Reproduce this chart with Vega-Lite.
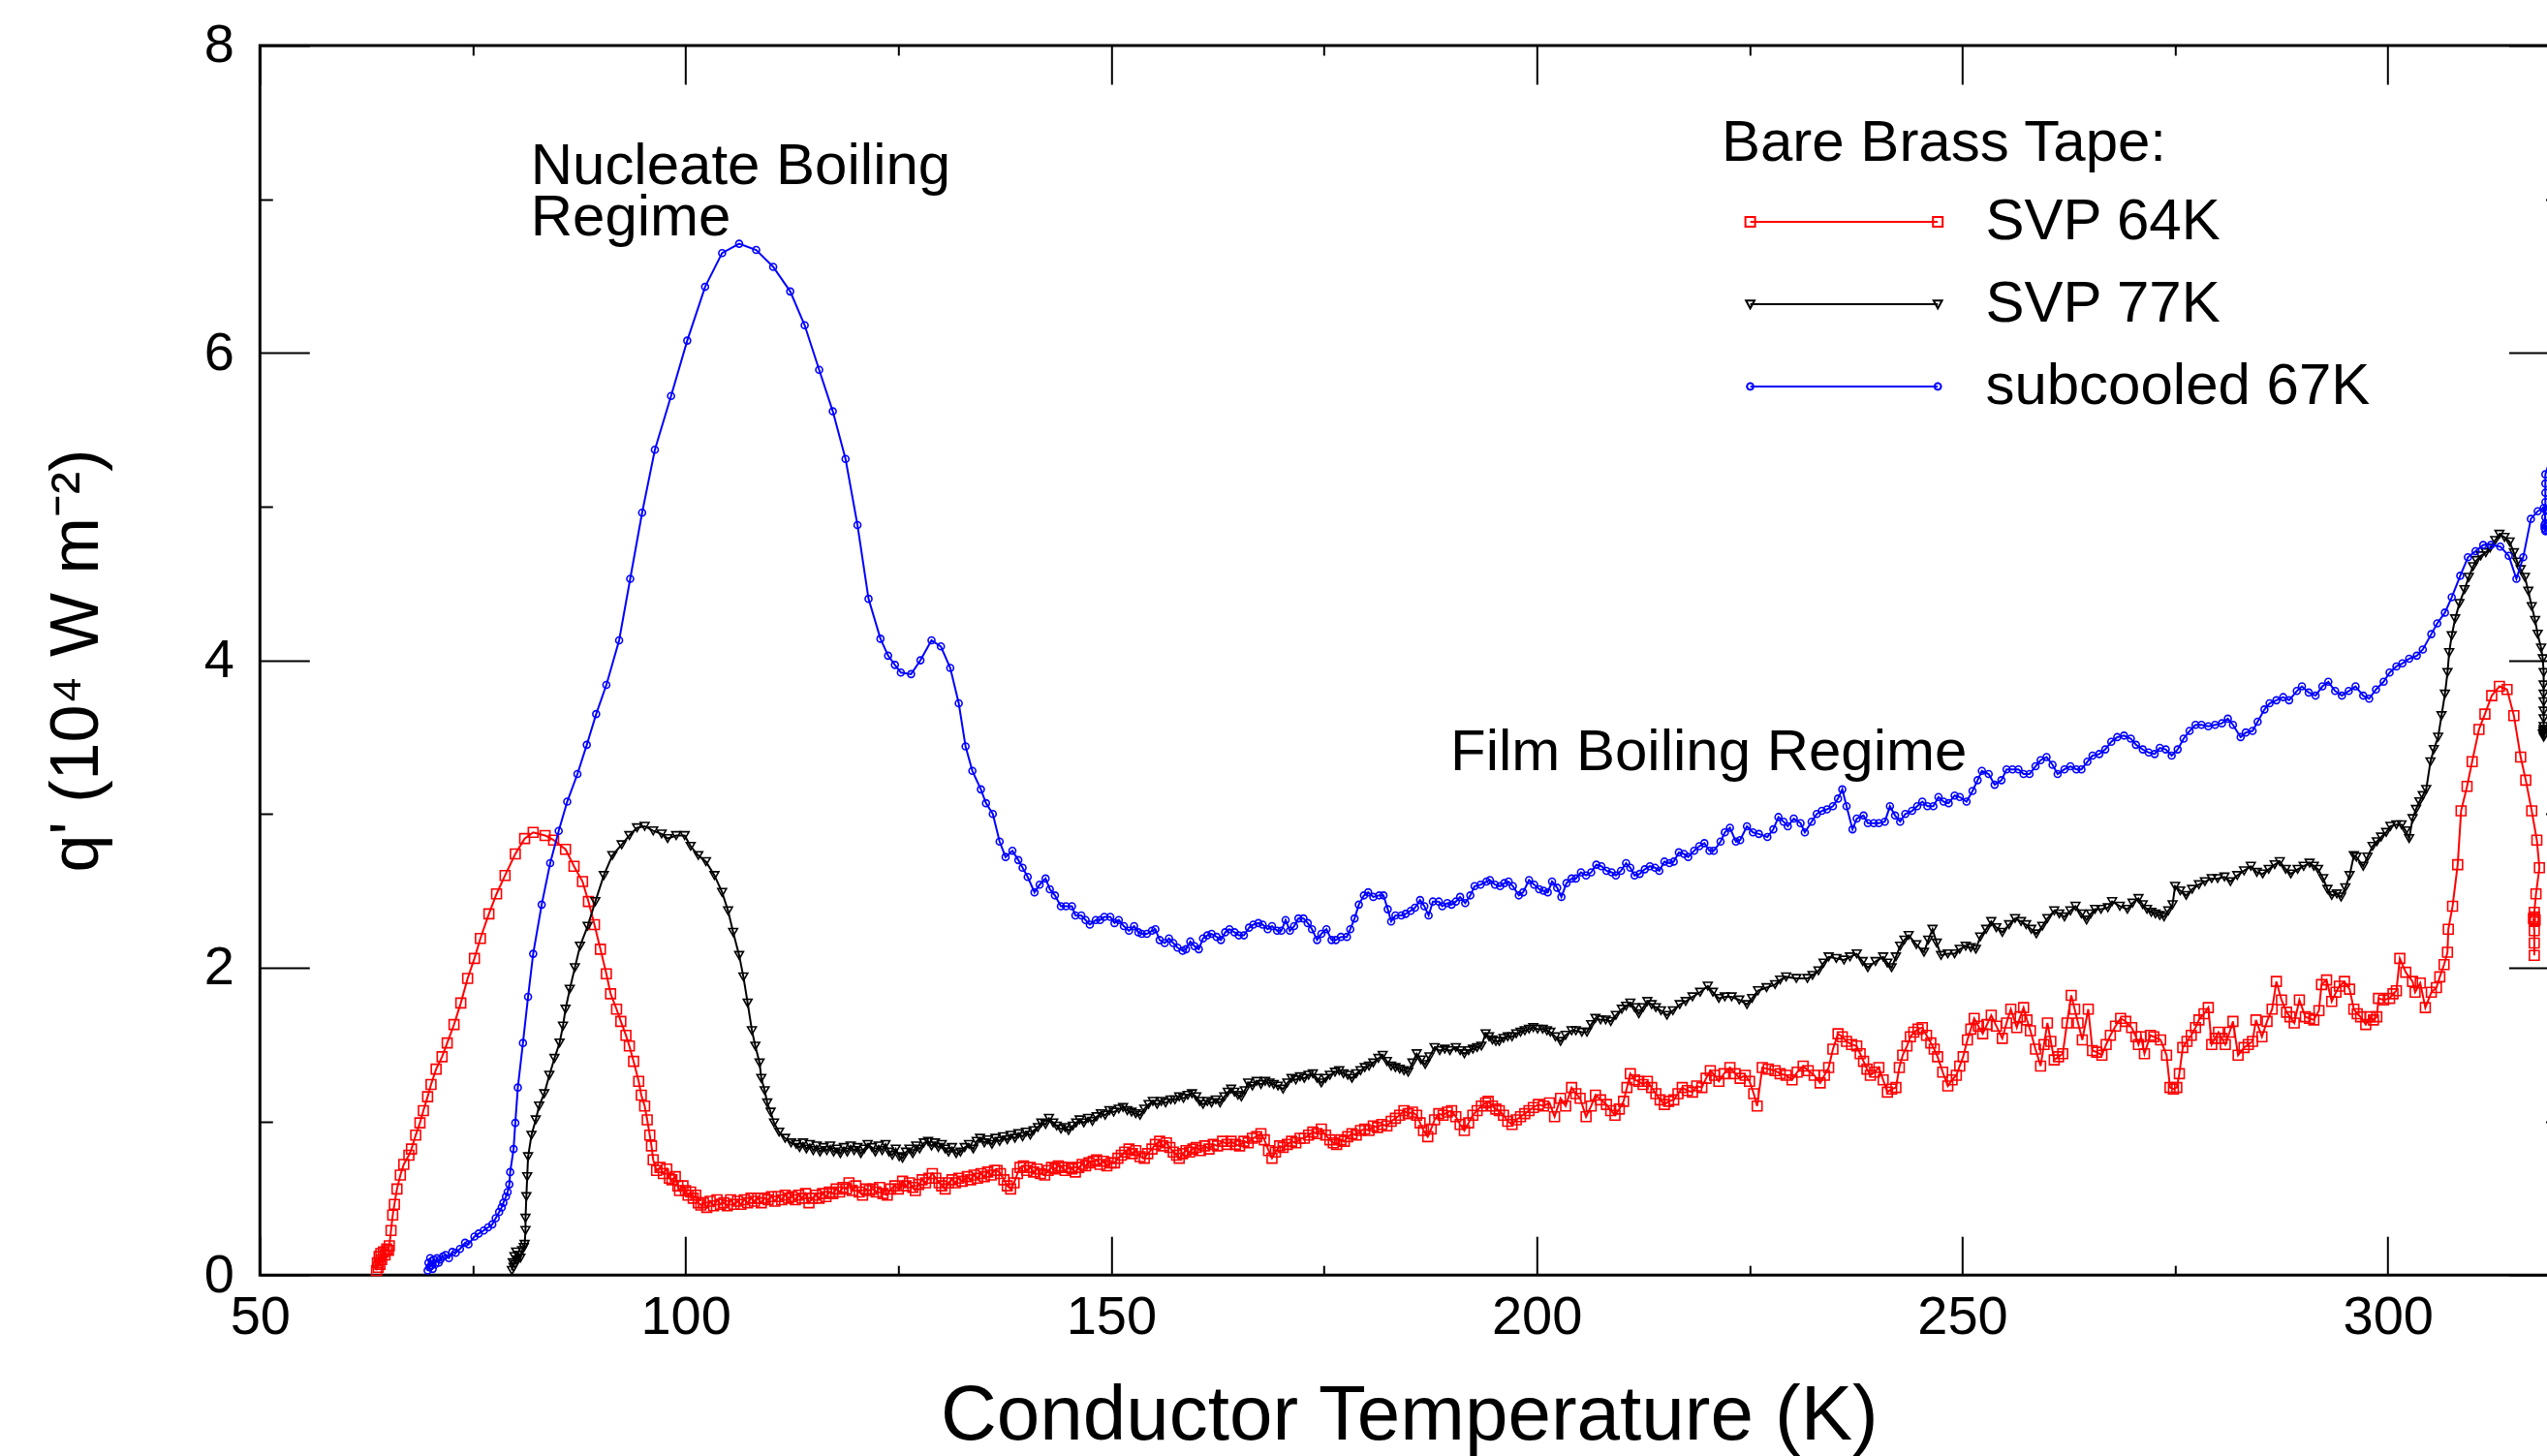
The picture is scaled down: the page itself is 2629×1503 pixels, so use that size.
{
"$schema": "https://vega.github.io/schema/vega-lite/v6.json",
"width": 2372.2,
"height": 1269.2,
"autosize": {"type": "none"},
"padding": {"left": 268.3, "top": 47, "right": 0, "bottom": 187},
"background": "white",
"config": {
  "view": {"stroke": "black", "strokeWidth": 3},
  "font": "Liberation Sans",
  "axis": {"grid": false, "domain": false, "tickColor": "black", "tickWidth": 2, "labelColor": "black", "titleColor": "black", "labelFont": "Liberation Sans", "titleFont": "Liberation Sans", "titleFontWeight": "normal", "labelFlush": false, "labelOverlap": false}
},
"datasets": {
"red": [
{"T":63.7,"q":0.03},{"T":63.8,"q":0.08},{"T":63.9,"q":0.05},{"T":64.0,"q":0.12},{"T":64.1,"q":0.07},{"T":64.2,"q":0.14},{"T":64.3,"q":0.10},{"T":64.5,"q":0.15},{"T":64.7,"q":0.13},{"T":64.9,"q":0.17},{"T":65.1,"q":0.16},{"T":65.2,"q":0.19},
{"T":65.4,"q":0.29},{"T":65.6,"q":0.39},{"T":65.8,"q":0.46},{"T":66.1,"q":0.56},{"T":66.5,"q":0.65},{"T":66.9,"q":0.72},{"T":67.5,"q":0.78},{"T":67.8,"q":0.82},{"T":68.3,"q":0.91},{"T":68.8,"q":0.99},{"T":69.2,"q":1.07},{"T":69.7,"q":1.16},{"T":70.1,"q":1.24},{"T":70.7,"q":1.34},{"T":71.4,"q":1.42},{"T":72.0,"q":1.51},{"T":72.8,"q":1.63},{"T":73.6,"q":1.77},{"T":74.4,"q":1.93},{"T":75.2,"q":2.06},{"T":75.9,"q":2.19},{"T":76.9,"q":2.35},{"T":77.8,"q":2.48},{"T":78.8,"q":2.60},{"T":80.0,"q":2.74},{"T":81.1,"q":2.84},{"T":82.1,"q":2.88},{"T":83.5,"q":2.86},{"T":84.5,"q":2.83},{"T":85.9,"q":2.77},{"T":86.9,"q":2.66},{"T":87.9,"q":2.56},{"T":88.6,"q":2.43},{"T":89.3,"q":2.28},{"T":90.0,"q":2.12},{"T":90.7,"q":1.96},{"T":91.2,"q":1.83},{"T":91.9,"q":1.73},{"T":92.4,"q":1.65},{"T":93.0,"q":1.56},{"T":93.4,"q":1.49},{"T":93.9,"q":1.39},{"T":94.5,"q":1.26},{"T":94.8,"q":1.17},{"T":95.2,"q":1.10},{"T":95.5,"q":1.01},{"T":95.8,"q":0.91},{"T":96.0,"q":0.84},{"T":96.2,"q":0.75},{"T":96.6,"q":0.68},
{"T":97.0,"q":0.70},{"T":97.4,"q":0.66},{"T":97.8,"q":0.69},{"T":98.1,"q":0.63},{"T":98.4,"q":0.62},{"T":98.8,"q":0.64},{"T":99.1,"q":0.58},{"T":99.3,"q":0.55},{"T":99.7,"q":0.58},{"T":100.0,"q":0.55},{"T":100.3,"q":0.52},{"T":100.6,"q":0.54},{"T":100.9,"q":0.50},{"T":101.2,"q":0.52},{"T":101.5,"q":0.47},{"T":101.8,"q":0.455},{"T":102.1,"q":0.47},{"T":102.5,"q":0.44},{"T":102.9,"q":0.48},{"T":103.3,"q":0.45},{"T":103.7,"q":0.49},{"T":104.1,"q":0.46},{"T":104.5,"q":0.47},{"T":104.9,"q":0.45},{"T":105.3,"q":0.49},{"T":105.7,"q":0.46},{"T":106.1,"q":0.48},{"T":106.5,"q":0.46},{"T":106.9,"q":0.49},{"T":107.3,"q":0.47},{"T":107.7,"q":0.50},{"T":108.1,"q":0.48},{"T":108.5,"q":0.50},{"T":108.9,"q":0.47},{"T":109.3,"q":0.50},{"T":109.7,"q":0.49},{"T":110.1,"q":0.51},{"T":110.5,"q":0.48},{"T":110.9,"q":0.51},{"T":111.3,"q":0.49},{"T":111.7,"q":0.52},{"T":112.1,"q":0.50},{"T":112.5,"q":0.51},{"T":112.9,"q":0.49},{"T":113.3,"q":0.52},{"T":113.7,"q":0.50},{"T":114.1,"q":0.53},{"T":114.5,"q":0.47},{"T":114.9,"q":0.50},{"T":115.3,"q":0.52},{"T":115.7,"q":0.50},{"T":116.1,"q":0.53},{"T":116.5,"q":0.51},{"T":116.9,"q":0.54},{"T":117.3,"q":0.53},{"T":117.7,"q":0.56},{"T":118.1,"q":0.54},{"T":118.5,"q":0.57},{"T":118.9,"q":0.56},{"T":119.2,"q":0.60},{"T":119.6,"q":0.55},{"T":120.0,"q":0.58},{"T":120.4,"q":0.54},{"T":120.8,"q":0.52},{"T":121.2,"q":0.56},{"T":121.6,"q":0.55},{"T":122.0,"q":0.56},
{"T":122.4,"q":0.54},{"T":122.8,"q":0.57},{"T":123.2,"q":0.53},{"T":123.7,"q":0.52},{"T":124.1,"q":0.56},{"T":124.6,"q":0.58},{"T":125.0,"q":0.56},{"T":125.5,"q":0.61},{"T":125.9,"q":0.58},{"T":126.3,"q":0.60},{"T":126.7,"q":0.57},{"T":127.0,"q":0.55},{"T":127.4,"q":0.59},{"T":127.8,"q":0.62},{"T":128.2,"q":0.60},{"T":128.6,"q":0.63},{"T":129.0,"q":0.66},{"T":129.4,"q":0.63},{"T":129.8,"q":0.60},{"T":130.1,"q":0.58},{"T":130.5,"q":0.56},{"T":130.9,"q":0.60},{"T":131.3,"q":0.62},{"T":131.7,"q":0.60},{"T":132.1,"q":0.63},{"T":132.5,"q":0.61},{"T":133.1,"q":0.64},{"T":133.5,"q":0.62},{"T":133.9,"q":0.65},{"T":134.3,"q":0.63},{"T":134.7,"q":0.66},{"T":135.1,"q":0.64},{"T":135.5,"q":0.67},{"T":135.9,"q":0.65},{"T":136.3,"q":0.68},{"T":136.6,"q":0.68},{"T":137.0,"q":0.66},{"T":137.4,"q":0.62},{"T":137.8,"q":0.58},{"T":138.2,"q":0.56},{"T":138.6,"q":0.60},{"T":139.0,"q":0.66},{"T":139.3,"q":0.70},{"T":139.7,"q":0.71},{"T":140.1,"q":0.68},{"T":140.5,"q":0.70},{"T":140.9,"q":0.67},{"T":141.3,"q":0.69},{"T":141.7,"q":0.66},{"T":142.2,"q":0.65},{"T":142.6,"q":0.68},{"T":143.0,"q":0.70},{"T":143.4,"q":0.69},{"T":143.8,"q":0.71},{"T":144.2,"q":0.70},{"T":144.6,"q":0.68},{"T":145.0,"q":0.70},{"T":145.4,"q":0.69},{"T":145.8,"q":0.67},{"T":146.2,"q":0.70},{"T":146.6,"q":0.72},{"T":147.0,"q":0.71},{"T":147.4,"q":0.73},{"T":147.9,"q":0.74},{"T":148.3,"q":0.75},{"T":148.7,"q":0.72},{"T":149.1,"q":0.74},{"T":149.5,"q":0.71},{"T":150.0,"q":0.73},{"T":150.4,"q":0.73},{"T":150.8,"q":0.76},{"T":151.2,"q":0.78},{"T":151.6,"q":0.80},{"T":152.1,"q":0.82},{"T":152.5,"q":0.79},{"T":152.9,"q":0.81},{"T":153.4,"q":0.77},{"T":153.9,"q":0.76},{"T":154.3,"q":0.79},{"T":154.8,"q":0.82},{"T":155.2,"q":0.85},{"T":155.7,"q":0.87},{"T":156.1,"q":0.84},{"T":156.5,"q":0.86},{"T":156.9,"q":0.83},{"T":157.3,"q":0.80},{"T":157.7,"q":0.78},{"T":158.0,"q":0.76},{"T":158.4,"q":0.79},{"T":158.8,"q":0.81},{"T":159.2,"q":0.80},{"T":159.6,"q":0.82},{"T":160.0,"q":0.83},{"T":160.5,"q":0.81},{"T":161.0,"q":0.84},{"T":161.5,"q":0.82},{"T":162.0,"q":0.85},{"T":162.5,"q":0.84},{"T":163.1,"q":0.87},{"T":163.6,"q":0.85},{"T":164.1,"q":0.87},{"T":164.6,"q":0.85},{"T":165.1,"q":0.84},{"T":165.6,"q":0.87},{"T":166.1,"q":0.86},{"T":166.6,"q":0.89},{"T":167.1,"q":0.90},{"T":167.6,"q":0.92},{"T":168.0,"q":0.88},{"T":168.5,"q":0.81},{"T":168.9,"q":0.76},{"T":169.3,"q":0.80},{"T":169.8,"q":0.84},{"T":170.2,"q":0.83},{"T":170.7,"q":0.85},{"T":171.2,"q":0.87},{"T":171.7,"q":0.86},{"T":172.2,"q":0.89},{"T":172.7,"q":0.89},{"T":173.2,"q":0.91},{"T":173.7,"q":0.93},{"T":174.2,"q":0.92},{"T":174.7,"q":0.95},{"T":175.2,"q":0.91},{"T":175.7,"q":0.88},{"T":176.1,"q":0.86},{"T":176.5,"q":0.85},{"T":177.0,"q":0.88},{"T":177.4,"q":0.87},{"T":177.8,"q":0.90},{"T":178.3,"q":0.92},{"T":178.8,"q":0.91},{"T":179.3,"q":0.94},{"T":179.8,"q":0.95},{"T":180.3,"q":0.94},{"T":180.8,"q":0.97},{"T":181.3,"q":0.96},{"T":181.8,"q":0.98},{"T":182.4,"q":0.97},{"T":182.9,"q":1.00},{"T":183.4,"q":1.02},{"T":183.9,"q":1.04},{"T":184.4,"q":1.07},{"T":184.9,"q":1.05},{"T":185.4,"q":1.06},{"T":185.9,"q":1.04},{"T":186.3,"q":0.99},{"T":186.7,"q":0.94},{"T":187.2,"q":0.90},{"T":187.6,"q":0.95},{"T":188.0,"q":1.01},{"T":188.5,"q":1.05},{"T":189.0,"q":1.04},{"T":189.5,"q":1.06},{"T":190.0,"q":1.07},{"T":190.5,"q":1.03},{"T":191.0,"q":0.98},{"T":191.5,"q":0.94},{"T":192.0,"q":0.99},{"T":192.5,"q":1.04},{"T":193.0,"q":1.07},{"T":193.5,"q":1.10},{"T":194.0,"q":1.12},{"T":194.3,"q":1.13},{"T":194.8,"q":1.10},{"T":195.2,"q":1.08},{"T":195.6,"q":1.07},{"T":196.1,"q":1.04},{"T":196.6,"q":1.00},{"T":197.1,"q":0.98},{"T":197.6,"q":1.01},{"T":198.1,"q":1.03},{"T":198.6,"q":1.05},{"T":199.1,"q":1.07},{"T":199.6,"q":1.09},{"T":200.2,"q":1.11},{"T":200.8,"q":1.10},{"T":201.5,"q":1.12},
{"T":202.1,"q":1.03},{"T":202.8,"q":1.15},{"T":203.4,"q":1.10},{"T":204.1,"q":1.22},{"T":204.6,"q":1.18},{"T":205.1,"q":1.15},{"T":205.8,"q":1.03},{"T":206.4,"q":1.10},{"T":206.9,"q":1.17},{"T":207.5,"q":1.14},{"T":208.2,"q":1.11},{"T":208.7,"q":1.07},{"T":209.2,"q":1.04},{"T":209.7,"q":1.08},{"T":210.2,"q":1.13},{"T":210.6,"q":1.22},{"T":211.0,"q":1.31},{"T":211.5,"q":1.27},{"T":212.0,"q":1.26},{"T":212.5,"q":1.24},{"T":213.0,"q":1.26},{"T":213.5,"q":1.22},{"T":214.0,"q":1.18},{"T":214.5,"q":1.14},{"T":215.0,"q":1.11},{"T":215.5,"q":1.13},{"T":216.1,"q":1.14},{"T":216.6,"q":1.18},{"T":217.1,"q":1.22},{"T":217.7,"q":1.20},{"T":218.3,"q":1.19},{"T":218.8,"q":1.23},{"T":219.4,"q":1.22},{"T":219.9,"q":1.28},{"T":220.4,"q":1.33},{"T":220.9,"q":1.30},{"T":221.4,"q":1.26},{"T":222.0,"q":1.31},{"T":222.7,"q":1.35},{"T":223.3,"q":1.31},{"T":223.9,"q":1.28},{"T":224.5,"q":1.30},{"T":225.0,"q":1.26},{"T":225.5,"q":1.18},{"T":225.9,"q":1.10},{"T":226.5,"q":1.35},{"T":227.2,"q":1.34},{"T":228.0,"q":1.33},{"T":228.6,"q":1.31},{"T":229.3,"q":1.30},{"T":230.0,"q":1.27},{"T":230.6,"q":1.32},{"T":231.3,"q":1.36},{"T":231.9,"q":1.33},{"T":232.6,"q":1.30},{"T":233.3,"q":1.25},{"T":233.8,"q":1.30},{"T":234.3,"q":1.35},{"T":234.8,"q":1.47},{"T":235.4,"q":1.57},{"T":235.9,"q":1.55},{"T":236.4,"q":1.52},{"T":237.0,"q":1.50},{"T":237.6,"q":1.49},{"T":238.0,"q":1.44},{"T":238.4,"q":1.39},{"T":238.8,"q":1.34},{"T":239.2,"q":1.30},{"T":239.7,"q":1.32},{"T":240.2,"q":1.35},{"T":240.7,"q":1.27},{"T":241.2,"q":1.19},{"T":241.7,"q":1.21},{"T":242.2,"q":1.22},{"T":242.6,"q":1.35},{"T":243.0,"q":1.43},{"T":243.5,"q":1.49},{"T":243.9,"q":1.55},{"T":244.3,"q":1.58},{"T":244.8,"q":1.60},{"T":245.3,"q":1.61},{"T":245.8,"q":1.56},{"T":246.3,"q":1.51},{"T":246.7,"q":1.47},{"T":247.1,"q":1.42},{"T":247.7,"q":1.32},{"T":248.3,"q":1.23},{"T":248.8,"q":1.27},{"T":249.3,"q":1.30},{"T":249.7,"q":1.36},{"T":250.1,"q":1.42},{"T":250.6,"q":1.53},{"T":251.0,"q":1.60},{"T":251.4,"q":1.67},{"T":251.9,"q":1.62},{"T":252.4,"q":1.57},{"T":252.9,"q":1.63},{"T":253.4,"q":1.69},{"T":254.0,"q":1.62},{"T":254.7,"q":1.54},{"T":255.2,"q":1.64},{"T":255.7,"q":1.73},{"T":256.4,"q":1.61},{"T":256.8,"q":1.68},{"T":257.2,"q":1.74},{"T":257.6,"q":1.66},{"T":258.0,"q":1.59},{"T":258.6,"q":1.47},{"T":259.2,"q":1.36},{"T":259.6,"q":1.50},{"T":260.0,"q":1.64},{"T":260.4,"q":1.52},{"T":260.8,"q":1.40},{"T":261.3,"q":1.42},{"T":261.8,"q":1.44},{"T":262.3,"q":1.64},{"T":262.8,"q":1.82},{"T":263.2,"q":1.73},{"T":263.6,"q":1.64},{"T":264.1,"q":1.53},{"T":264.8,"q":1.73},{"T":265.3,"q":1.46},{"T":265.8,"q":1.45},{"T":266.4,"q":1.43},{"T":266.9,"q":1.50},{"T":267.4,"q":1.56},{"T":268.0,"q":1.62},{"T":268.6,"q":1.67},{"T":269.2,"q":1.65},{"T":269.9,"q":1.61},{"T":270.4,"q":1.55},{"T":270.7,"q":1.50},{"T":271.0,"q":1.55},{"T":271.4,"q":1.44},{"T":272.1,"q":1.56},{"T":272.5,"q":1.55},{"T":273.3,"q":1.53},{"T":274.0,"q":1.43},{"T":274.4,"q":1.22},{"T":274.8,"q":1.21},{"T":275.2,"q":1.22},{"T":275.5,"q":1.31},{"T":275.9,"q":1.48},{"T":276.4,"q":1.52},{"T":276.9,"q":1.56},{"T":277.4,"q":1.61},{"T":277.8,"q":1.66},{"T":278.4,"q":1.70},{"T":278.9,"q":1.74},{"T":279.3,"q":1.50},{"T":279.7,"q":1.54},{"T":280.1,"q":1.58},{"T":280.5,"q":1.54},{"T":280.9,"q":1.50},{"T":281.4,"q":1.58},{"T":281.8,"q":1.65},{"T":282.4,"q":1.43},{"T":283.1,"q":1.48},{"T":283.6,"q":1.50},{"T":284.1,"q":1.52},{"T":284.5,"q":1.66},{"T":285.2,"q":1.55},{"T":285.8,"q":1.65},{"T":286.4,"q":1.73},{"T":286.9,"q":1.91},{"T":287.5,"q":1.79},{"T":288.1,"q":1.71},{"T":288.5,"q":1.68},{"T":289.0,"q":1.64},{"T":289.6,"q":1.79},{"T":290.3,"q":1.68},{"T":290.8,"q":1.67},{"T":291.3,"q":1.66},{"T":291.9,"q":1.72},{"T":292.2,"q":1.89},{"T":292.8,"q":1.92},{"T":293.4,"q":1.78},{"T":293.9,"q":1.84},{"T":294.3,"q":1.88},{"T":294.9,"q":1.91},{"T":295.5,"q":1.86},{"T":296.0,"q":1.73},{"T":296.4,"q":1.70},{"T":296.8,"q":1.68},{"T":297.4,"q":1.63},{"T":297.9,"q":1.68},{"T":298.3,"q":1.66},{"T":298.7,"q":1.68},{"T":298.9,"q":1.80},{"T":299.5,"q":1.79},{"T":300.2,"q":1.80},{"T":300.6,"q":1.83},{"T":301.0,"q":1.85},{"T":301.4,"q":2.06},{"T":302.1,"q":1.97},{"T":302.9,"q":1.91},{"T":303.2,"q":1.84},{"T":303.8,"q":1.90},{"T":304.4,"q":1.74},{"T":305.1,"q":1.84},{"T":305.7,"q":1.87},{"T":306.1,"q":1.94},{"T":306.6,"q":2.02},{"T":307.0,"q":2.10},{"T":307.1,"q":2.25},{"T":307.6,"q":2.40},{"T":308.2,"q":2.67},{"T":308.6,"q":3.02},{"T":309.3,"q":3.18},{"T":309.9,"q":3.34},{"T":310.7,"q":3.55},{"T":311.4,"q":3.65},{"T":312.2,"q":3.77},{"T":313.1,"q":3.83},{"T":314.0,"q":3.81},{"T":314.8,"q":3.64},{"T":315.6,"q":3.37},{"T":316.2,"q":3.22},{"T":316.9,"q":3.02},{"T":317.5,"q":2.83},{"T":317.8,"q":2.65},{"T":317.4,"q":2.48},{"T":317.2,"q":2.36},{"T":317.2,"q":2.33},{"T":317.3,"q":2.31},{"T":317.2,"q":2.30},{"T":317.1,"q":2.32},{"T":317.2,"q":2.24},{"T":317.2,"q":2.16},{"T":317.2,"q":2.08}
],
"black": [
{"T":79.6,"q":0.03},{"T":79.7,"q":0.08},{"T":79.8,"q":0.05},{"T":79.9,"q":0.12},{"T":80.0,"q":0.07},{"T":80.1,"q":0.15},{"T":80.2,"q":0.10},{"T":80.4,"q":0.13},{"T":80.6,"q":0.11},{"T":80.8,"q":0.16},{"T":81.0,"q":0.18},{"T":81.1,"q":0.20},{"T":81.2,"q":0.29},{"T":81.2,"q":0.37},{"T":81.3,"q":0.51},{"T":81.4,"q":0.64},{"T":81.5,"q":0.77},{"T":81.9,"q":0.91},{"T":82.4,"q":1.01},{"T":82.8,"q":1.10},{"T":83.4,"q":1.18},{"T":84.0,"q":1.30},{"T":84.6,"q":1.41},{"T":85.2,"q":1.51},{"T":85.6,"q":1.62},{"T":85.9,"q":1.73},{"T":86.4,"q":1.86},{"T":87.0,"q":2.00},{"T":87.6,"q":2.14},{"T":88.5,"q":2.27},{"T":89.4,"q":2.43},{"T":90.4,"q":2.60},{"T":91.4,"q":2.73},{"T":92.5,"q":2.80},{"T":93.4,"q":2.86},{"T":94.3,"q":2.91},{"T":95.2,"q":2.92},{"T":96.2,"q":2.89},{"T":97.2,"q":2.87},{"T":97.9,"q":2.84},{"T":98.9,"q":2.86},{"T":99.9,"q":2.86},{"T":100.6,"q":2.79},{"T":101.5,"q":2.73},{"T":102.4,"q":2.69},{"T":103.4,"q":2.60},{"T":104.3,"q":2.49},{"T":105.0,"q":2.37},{"T":105.6,"q":2.23},{"T":106.3,"q":2.08},{"T":106.8,"q":1.94},{"T":107.3,"q":1.77},{"T":107.8,"q":1.59},{"T":108.2,"q":1.49},{"T":108.7,"q":1.38},{"T":108.9,"q":1.28},{"T":109.3,"q":1.20},{"T":109.6,"q":1.12},{"T":110.0,"q":1.06},{"T":110.4,"q":0.99},{"T":111.0,"q":0.93},{"T":111.7,"q":0.89},{"T":112.4,"q":0.86},{"T":113.0,"q":0.85},{"T":113.4,"q":0.83},{"T":113.8,"q":0.86},{"T":114.2,"q":0.82},{"T":114.6,"q":0.85},{"T":115.0,"q":0.81},{"T":115.4,"q":0.84},{"T":115.8,"q":0.80},{"T":116.2,"q":0.83},{"T":116.6,"q":0.81},{"T":117.0,"q":0.84},{"T":117.4,"q":0.80},{"T":117.8,"q":0.82},{"T":118.2,"q":0.79},{"T":118.6,"q":0.83},{"T":119.0,"q":0.80},{"T":119.4,"q":0.84},{"T":119.8,"q":0.81},{"T":120.2,"q":0.83},{"T":120.6,"q":0.79},{"T":121.0,"q":0.82},{"T":121.4,"q":0.85},{"T":121.9,"q":0.83},{"T":122.3,"q":0.80},{"T":122.7,"q":0.84},{"T":123.1,"q":0.81},{"T":123.5,"q":0.85},{"T":123.9,"q":0.80},{"T":124.3,"q":0.78},{"T":124.7,"q":0.82},{"T":125.1,"q":0.77},{"T":125.5,"q":0.76},{"T":125.9,"q":0.80},{"T":126.3,"q":0.82},{"T":126.7,"q":0.79},{"T":127.1,"q":0.84},{"T":127.5,"q":0.82},{"T":128.0,"q":0.86},{"T":128.5,"q":0.87},{"T":128.9,"q":0.84},{"T":129.3,"q":0.86},{"T":129.7,"q":0.83},{"T":130.1,"q":0.85},{"T":130.5,"q":0.82},{"T":130.9,"q":0.80},{"T":131.3,"q":0.83},{"T":131.8,"q":0.79},{"T":132.3,"q":0.80},{"T":132.8,"q":0.83},{"T":133.3,"q":0.85},{"T":133.8,"q":0.82},{"T":134.2,"q":0.87},{"T":134.6,"q":0.89},{"T":135.1,"q":0.86},{"T":135.5,"q":0.88},{"T":136.0,"q":0.85},{"T":136.4,"q":0.89},{"T":136.9,"q":0.87},{"T":137.3,"q":0.90},{"T":137.8,"q":0.88},{"T":138.2,"q":0.91},{"T":138.7,"q":0.89},{"T":139.1,"q":0.92},{"T":139.6,"q":0.90},{"T":140.0,"q":0.93},{"T":140.5,"q":0.91},{"T":140.9,"q":0.94},{"T":141.4,"q":0.96},{"T":141.8,"q":0.99},{"T":142.3,"q":0.98},{"T":142.7,"q":1.02},{"T":143.2,"q":0.99},{"T":143.6,"q":0.97},{"T":144.1,"q":0.95},{"T":144.6,"q":0.96},{"T":145.0,"q":0.94},{"T":145.5,"q":0.97},{"T":145.9,"q":0.99},{"T":146.3,"q":1.01},{"T":146.8,"q":0.99},{"T":147.3,"q":1.02},{"T":147.8,"q":1.00},{"T":148.3,"q":1.03},{"T":148.8,"q":1.05},{"T":149.3,"q":1.04},{"T":149.8,"q":1.07},{"T":150.3,"q":1.06},{"T":150.9,"q":1.08},{"T":151.4,"q":1.09},{"T":151.9,"q":1.07},{"T":152.4,"q":1.06},{"T":152.9,"q":1.05},{"T":153.4,"q":1.04},{"T":153.9,"q":1.08},{"T":154.4,"q":1.11},{"T":154.9,"q":1.13},{"T":155.4,"q":1.11},{"T":155.9,"q":1.13},{"T":156.4,"q":1.12},{"T":157.0,"q":1.14},{"T":157.5,"q":1.14},{"T":158.0,"q":1.16},{"T":158.5,"q":1.15},{"T":159.0,"q":1.17},{"T":159.5,"q":1.18},{"T":160.0,"q":1.16},{"T":160.4,"q":1.13},{"T":160.8,"q":1.11},{"T":161.3,"q":1.13},{"T":161.8,"q":1.12},{"T":162.3,"q":1.14},{"T":162.8,"q":1.12},{"T":163.3,"q":1.16},{"T":163.7,"q":1.19},{"T":164.1,"q":1.21},{"T":164.5,"q":1.19},{"T":164.9,"q":1.17},{"T":165.3,"q":1.16},{"T":165.7,"q":1.20},{"T":166.1,"q":1.25},{"T":166.6,"q":1.23},{"T":167.1,"q":1.26},{"T":167.6,"q":1.24},{"T":168.1,"q":1.26},{"T":168.6,"q":1.25},{"T":169.1,"q":1.24},{"T":169.6,"q":1.23},{"T":170.2,"q":1.21},{"T":170.7,"q":1.25},{"T":171.2,"q":1.28},{"T":171.7,"q":1.27},{"T":172.2,"q":1.29},{"T":172.7,"q":1.28},{"T":173.2,"q":1.30},{"T":173.7,"q":1.31},{"T":174.2,"q":1.28},{"T":174.7,"q":1.25},{"T":175.2,"q":1.28},{"T":175.7,"q":1.30},{"T":176.3,"q":1.32},{"T":176.8,"q":1.33},{"T":177.3,"q":1.31},{"T":177.8,"q":1.30},{"T":178.3,"q":1.28},{"T":178.8,"q":1.31},{"T":179.3,"q":1.33},{"T":179.8,"q":1.35},{"T":180.3,"q":1.36},{"T":180.8,"q":1.38},{"T":181.4,"q":1.41},{"T":181.9,"q":1.43},{"T":182.4,"q":1.39},{"T":182.9,"q":1.36},{"T":183.4,"q":1.35},{"T":183.9,"q":1.34},{"T":184.4,"q":1.33},{"T":184.9,"q":1.32},{"T":185.4,"q":1.38},{"T":185.9,"q":1.44},{"T":186.4,"q":1.40},{"T":186.9,"q":1.37},{"T":187.4,"q":1.42},{"T":188.0,"q":1.48},{"T":188.6,"q":1.46},{"T":189.2,"q":1.47},{"T":189.8,"q":1.46},{"T":190.5,"q":1.48},{"T":191.0,"q":1.46},{"T":191.5,"q":1.44},{"T":192.0,"q":1.46},{"T":192.5,"q":1.47},{"T":193.0,"q":1.48},{"T":193.5,"q":1.49},{"T":194.0,"q":1.57},{"T":194.4,"q":1.55},{"T":194.8,"q":1.53},{"T":195.2,"q":1.52},{"T":195.6,"q":1.52},{"T":196.1,"q":1.54},{"T":196.6,"q":1.55},{"T":197.1,"q":1.55},{"T":197.6,"q":1.57},{"T":198.1,"q":1.58},{"T":198.6,"q":1.59},{"T":199.1,"q":1.60},{"T":199.6,"q":1.61},{"T":200.1,"q":1.60},{"T":200.7,"q":1.60},{"T":201.2,"q":1.59},{"T":201.6,"q":1.58},{"T":202.2,"q":1.55},{"T":202.8,"q":1.52},{"T":203.4,"q":1.56},{"T":204.1,"q":1.59},{"T":204.6,"q":1.59},{"T":205.3,"q":1.58},{"T":205.9,"q":1.58},{"T":206.4,"q":1.63},{"T":206.9,"q":1.67},{"T":207.5,"q":1.66},{"T":208.1,"q":1.66},{"T":208.7,"q":1.65},{"T":209.3,"q":1.69},{"T":210.0,"q":1.73},{"T":210.5,"q":1.75},{"T":211.0,"q":1.77},{"T":211.5,"q":1.74},{"T":212.0,"q":1.70},{"T":212.5,"q":1.74},{"T":213.0,"q":1.78},{"T":213.5,"q":1.76},{"T":214.0,"q":1.74},{"T":214.6,"q":1.72},{"T":215.3,"q":1.69},{"T":216.0,"q":1.72},{"T":216.8,"q":1.76},{"T":217.5,"q":1.78},{"T":218.3,"q":1.81},{"T":219.2,"q":1.84},{"T":220.1,"q":1.88},{"T":220.7,"q":1.84},{"T":221.4,"q":1.80},{"T":222.1,"q":1.81},{"T":222.9,"q":1.81},{"T":223.8,"q":1.79},{"T":224.7,"q":1.76},{"T":225.3,"q":1.80},{"T":226.0,"q":1.85},{"T":227.0,"q":1.87},{"T":228.0,"q":1.89},{"T":228.6,"q":1.92},{"T":229.3,"q":1.94},{"T":230.5,"q":1.93},{"T":231.8,"q":1.93},{"T":232.4,"q":1.95},{"T":233.1,"q":1.98},{"T":233.7,"q":2.03},{"T":234.3,"q":2.07},{"T":235.2,"q":2.06},{"T":236.1,"q":2.05},{"T":236.8,"q":2.07},{"T":237.6,"q":2.09},{"T":238.3,"q":2.04},{"T":238.9,"q":2.00},{"T":239.8,"q":2.04},{"T":240.7,"q":2.07},{"T":241.2,"q":2.03},{"T":241.7,"q":2.00},{"T":242.2,"q":2.07},{"T":242.7,"q":2.14},{"T":243.2,"q":2.18},{"T":243.7,"q":2.21},{"T":244.6,"q":2.15},{"T":245.5,"q":2.10},{"T":246.0,"q":2.18},{"T":246.5,"q":2.25},{"T":247.0,"q":2.16},{"T":247.5,"q":2.08},{"T":248.3,"q":2.09},{"T":249.1,"q":2.09},{"T":249.7,"q":2.12},{"T":250.4,"q":2.14},{"T":251.0,"q":2.13},{"T":251.6,"q":2.12},{"T":252.1,"q":2.20},{"T":252.8,"q":2.25},{"T":253.4,"q":2.30},{"T":254.0,"q":2.26},{"T":254.7,"q":2.23},{"T":255.5,"q":2.28},{"T":256.2,"q":2.32},{"T":256.9,"q":2.30},{"T":257.5,"q":2.28},{"T":258.1,"q":2.25},{"T":258.7,"q":2.22},{"T":259.4,"q":2.27},{"T":260.0,"q":2.32},{"T":260.8,"q":2.37},{"T":261.4,"q":2.35},{"T":262.0,"q":2.33},{"T":262.7,"q":2.37},{"T":263.3,"q":2.40},{"T":264.0,"q":2.35},{"T":264.6,"q":2.31},{"T":265.1,"q":2.35},{"T":265.6,"q":2.38},{"T":266.3,"q":2.38},{"T":267.1,"q":2.39},{"T":267.6,"q":2.43},{"T":268.5,"q":2.40},{"T":269.4,"q":2.38},{"T":270.0,"q":2.42},{"T":270.7,"q":2.45},{"T":271.2,"q":2.41},{"T":271.7,"q":2.38},{"T":272.2,"q":2.36},{"T":272.7,"q":2.35},{"T":273.2,"q":2.34},{"T":273.7,"q":2.33},{"T":274.2,"q":2.37},{"T":274.7,"q":2.41},{"T":275.0,"q":2.53},{"T":275.6,"q":2.50},{"T":276.3,"q":2.47},{"T":277.0,"q":2.51},{"T":277.8,"q":2.54},{"T":278.5,"q":2.56},{"T":279.3,"q":2.58},{"T":280.0,"q":2.58},{"T":280.8,"q":2.59},{"T":281.5,"q":2.56},{"T":282.3,"q":2.60},{"T":283.1,"q":2.63},{"T":283.9,"q":2.66},{"T":284.6,"q":2.62},{"T":285.3,"q":2.61},{"T":286.0,"q":2.64},{"T":286.7,"q":2.67},{"T":287.3,"q":2.69},{"T":288.0,"q":2.64},{"T":288.6,"q":2.61},{"T":289.4,"q":2.64},{"T":290.1,"q":2.66},{"T":290.8,"q":2.68},{"T":291.3,"q":2.66},{"T":291.8,"q":2.64},{"T":292.4,"q":2.58},{"T":292.9,"q":2.51},{"T":293.4,"q":2.47},{"T":294.0,"q":2.48},{"T":294.5,"q":2.46},{"T":295.0,"q":2.52},{"T":295.5,"q":2.60},{"T":296.0,"q":2.73},{"T":296.3,"q":2.72},{"T":297.1,"q":2.66},{"T":297.6,"q":2.72},{"T":298.2,"q":2.79},{"T":298.7,"q":2.82},{"T":299.2,"q":2.85},{"T":299.8,"q":2.88},{"T":300.3,"q":2.92},{"T":301.0,"q":2.93},{"T":301.6,"q":2.93},{"T":302.1,"q":2.89},{"T":302.5,"q":2.84},{"T":302.9,"q":2.97},{"T":303.3,"q":3.03},{"T":303.7,"q":3.08},{"T":304.1,"q":3.12},{"T":304.5,"q":3.16},{"T":305.0,"q":3.34},{"T":305.4,"q":3.42},{"T":305.9,"q":3.50},{"T":306.3,"q":3.64},{"T":306.7,"q":3.78},{"T":307.0,"q":3.92},{"T":307.2,"q":4.05},{"T":307.5,"q":4.16},{"T":307.9,"q":4.27},{"T":308.4,"q":4.37},{"T":309.0,"q":4.46},{"T":309.5,"q":4.54},{"T":310.0,"q":4.61},{"T":310.4,"q":4.65},{"T":310.9,"q":4.68},{"T":311.5,"q":4.70},{"T":312.0,"q":4.73},{"T":312.6,"q":4.78},{"T":313.1,"q":4.82},{"T":313.7,"q":4.80},{"T":314.3,"q":4.77},{"T":314.8,"q":4.70},{"T":315.2,"q":4.64},{"T":315.6,"q":4.59},{"T":316.1,"q":4.54},{"T":316.5,"q":4.45},{"T":316.9,"q":4.35},{"T":317.3,"q":4.26},{"T":317.6,"q":4.17},{"T":318.0,"q":4.08},{"T":318.2,"q":4.01},{"T":318.3,"q":3.92},{"T":318.3,"q":3.84},{"T":318.3,"q":3.78},{"T":318.3,"q":3.73},{"T":318.3,"q":3.67},{"T":318.3,"q":3.62},{"T":318.3,"q":3.57},{"T":318.3,"q":3.55},{"T":318.3,"q":3.53},{"T":318.2,"q":3.52},{"T":318.3,"q":3.54},{"T":318.4,"q":3.51},{"T":318.3,"q":3.50}
],
"blue": [
{"T":69.7,"q":0.03},{"T":69.8,"q":0.08},{"T":69.9,"q":0.05},{"T":70.0,"q":0.11},{"T":70.1,"q":0.06},{"T":70.2,"q":0.09},{"T":70.3,"q":0.04},{"T":70.4,"q":0.10},{"T":70.6,"q":0.07},{"T":70.8,"q":0.11},{"T":71.0,"q":0.08},{"T":71.2,"q":0.10},{"T":71.5,"q":0.12},{"T":71.8,"q":0.13},{"T":72.2,"q":0.11},{"T":72.6,"q":0.15},{"T":73.0,"q":0.145},{"T":73.5,"q":0.17},{"T":74.1,"q":0.21},{"T":74.5,"q":0.20},{"T":75.2,"q":0.25},{"T":75.7,"q":0.27},{"T":76.3,"q":0.29},{"T":76.8,"q":0.31},{"T":77.3,"q":0.33},{"T":77.7,"q":0.37},{"T":78.1,"q":0.41},{"T":78.4,"q":0.44},{"T":78.6,"q":0.47},{"T":78.9,"q":0.51},{"T":79.1,"q":0.54},{"T":79.3,"q":0.59},{"T":79.4,"q":0.67},{"T":79.8,"q":0.82},{"T":80.0,"q":0.99},{"T":80.3,"q":1.22},{"T":80.9,"q":1.51},{"T":81.5,"q":1.81},{"T":82.1,"q":2.09},{"T":83.1,"q":2.41},{"T":84.1,"q":2.68},{"T":85.1,"q":2.89},{"T":86.1,"q":3.08},{"T":87.3,"q":3.26},{"T":88.4,"q":3.45},{"T":89.5,"q":3.65},{"T":90.7,"q":3.84},{"T":92.2,"q":4.13},{"T":93.5,"q":4.53},{"T":94.9,"q":4.96},{"T":96.4,"q":5.37},{"T":98.3,"q":5.72},{"T":100.2,"q":6.08},{"T":102.3,"q":6.43},{"T":104.3,"q":6.65},{"T":106.3,"q":6.71},{"T":108.3,"q":6.67},{"T":110.3,"q":6.56},{"T":112.3,"q":6.40},{"T":114.0,"q":6.18},{"T":115.7,"q":5.89},{"T":117.3,"q":5.62},{"T":118.8,"q":5.31},{"T":120.2,"q":4.88},{"T":121.5,"q":4.40},{"T":122.9,"q":4.14},{"T":123.8,"q":4.03},{"T":124.6,"q":3.97},{"T":125.3,"q":3.92},{"T":126.5,"q":3.91},{"T":127.6,"q":4.00},{"T":128.9,"q":4.13},{"T":130.0,"q":4.09},{"T":131.1,"q":3.95},{"T":132.1,"q":3.72},{"T":132.9,"q":3.44},{"T":133.7,"q":3.28},{"T":134.7,"q":3.16},{"T":135.3,"q":3.07},{"T":136.1,"q":3.00},{"T":136.9,"q":2.82},{"T":137.6,"q":2.72},{"T":138.4,"q":2.76},{"T":139.1,"q":2.70},{"T":139.6,"q":2.65},{"T":140.2,"q":2.59},{"T":141.0,"q":2.49},{"T":141.6,"q":2.54},{"T":142.3,"q":2.58},{"T":142.8,"q":2.51},{"T":143.4,"q":2.47},{"T":144.1,"q":2.40},{"T":144.7,"q":2.40},{"T":145.4,"q":2.40},{"T":145.8,"q":2.34},{"T":146.5,"q":2.34},{"T":147.0,"q":2.31},{"T":147.5,"q":2.28},{"T":148.2,"q":2.31},{"T":148.7,"q":2.31},{"T":149.2,"q":2.33},{"T":149.9,"q":2.33},{"T":150.4,"q":2.29},{"T":150.9,"q":2.31},{"T":151.5,"q":2.27},{"T":152.1,"q":2.24},{"T":152.7,"q":2.27},{"T":153.2,"q":2.23},{"T":153.6,"q":2.22},{"T":154.2,"q":2.22},{"T":154.8,"q":2.24},{"T":155.2,"q":2.25},{"T":155.7,"q":2.18},{"T":156.3,"q":2.16},{"T":156.8,"q":2.19},{"T":157.3,"q":2.16},{"T":157.8,"q":2.13},{"T":158.4,"q":2.11},{"T":158.8,"q":2.12},{"T":159.3,"q":2.17},{"T":159.8,"q":2.14},{"T":160.3,"q":2.12},{"T":160.8,"q":2.19},{"T":161.3,"q":2.21},{"T":161.8,"q":2.22},{"T":162.4,"q":2.20},{"T":162.9,"q":2.18},{"T":163.4,"q":2.23},{"T":163.9,"q":2.25},{"T":164.5,"q":2.23},{"T":165.0,"q":2.21},{"T":165.6,"q":2.21},{"T":166.2,"q":2.26},{"T":166.7,"q":2.28},{"T":167.3,"q":2.29},{"T":167.8,"q":2.28},{"T":168.4,"q":2.25},{"T":168.9,"q":2.27},{"T":169.5,"q":2.24},{"T":170.0,"q":2.24},{"T":170.5,"q":2.31},{"T":171.0,"q":2.24},{"T":171.5,"q":2.27},{"T":172.0,"q":2.32},{"T":172.6,"q":2.32},{"T":173.1,"q":2.29},{"T":173.6,"q":2.25},{"T":174.2,"q":2.18},{"T":174.7,"q":2.22},{"T":175.3,"q":2.25},{"T":175.9,"q":2.18},{"T":176.4,"q":2.18},{"T":177.0,"q":2.20},{"T":177.7,"q":2.20},{"T":178.1,"q":2.25},{"T":178.6,"q":2.32},{"T":179.1,"q":2.41},{"T":179.7,"q":2.47},{"T":180.2,"q":2.49},{"T":180.8,"q":2.46},{"T":181.5,"q":2.47},{"T":182.0,"q":2.47},{"T":182.5,"q":2.38},{"T":182.9,"q":2.30},{"T":183.4,"q":2.34},{"T":184.1,"q":2.34},{"T":184.6,"q":2.35},{"T":185.2,"q":2.37},{"T":185.7,"q":2.39},{"T":186.3,"q":2.44},{"T":186.8,"q":2.40},{"T":187.3,"q":2.34},{"T":187.8,"q":2.43},{"T":188.5,"q":2.43},{"T":188.9,"q":2.40},{"T":189.5,"q":2.42},{"T":190.0,"q":2.41},{"T":190.5,"q":2.43},{"T":191.0,"q":2.46},{"T":191.6,"q":2.42},{"T":192.2,"q":2.47},{"T":192.7,"q":2.53},{"T":193.4,"q":2.54},{"T":194.1,"q":2.56},{"T":194.5,"q":2.57},{"T":195.1,"q":2.54},{"T":195.7,"q":2.53},{"T":196.2,"q":2.55},{"T":196.7,"q":2.56},{"T":197.2,"q":2.53},{"T":197.9,"q":2.47},{"T":198.4,"q":2.49},{"T":199.1,"q":2.57},{"T":199.7,"q":2.54},{"T":200.3,"q":2.51},{"T":200.8,"q":2.50},{"T":201.3,"q":2.49},{"T":201.8,"q":2.56},{"T":202.4,"q":2.52},{"T":202.9,"q":2.46},{"T":203.5,"q":2.55},{"T":204.1,"q":2.58},{"T":204.6,"q":2.58},{"T":205.2,"q":2.62},{"T":205.8,"q":2.60},{"T":206.4,"q":2.62},{"T":207.0,"q":2.67},{"T":207.6,"q":2.66},{"T":208.2,"q":2.63},{"T":208.8,"q":2.62},{"T":209.3,"q":2.60},{"T":209.9,"q":2.63},{"T":210.5,"q":2.68},{"T":211.0,"q":2.65},{"T":211.5,"q":2.60},{"T":212.1,"q":2.61},{"T":212.7,"q":2.64},{"T":213.3,"q":2.66},{"T":213.9,"q":2.65},{"T":214.4,"q":2.63},{"T":215.0,"q":2.69},{"T":215.6,"q":2.68},{"T":216.1,"q":2.69},{"T":216.7,"q":2.75},{"T":217.3,"q":2.74},{"T":217.8,"q":2.72},{"T":218.5,"q":2.76},{"T":219.1,"q":2.79},{"T":219.7,"q":2.81},{"T":220.3,"q":2.76},{"T":220.8,"q":2.76},{"T":221.6,"q":2.82},{"T":222.1,"q":2.88},{"T":222.7,"q":2.91},{"T":223.4,"q":2.82},{"T":223.9,"q":2.83},{"T":224.7,"q":2.92},{"T":225.4,"q":2.88},{"T":226.1,"q":2.87},{"T":227.1,"q":2.85},{"T":227.8,"q":2.90},{"T":228.4,"q":2.98},{"T":229.0,"q":2.95},{"T":229.5,"q":2.92},{"T":230.2,"q":2.97},{"T":231.0,"q":2.94},{"T":231.5,"q":2.88},{"T":232.3,"q":2.95},{"T":232.9,"q":3.00},{"T":233.5,"q":3.02},{"T":234.1,"q":3.03},{"T":234.8,"q":3.05},{"T":235.4,"q":3.10},{"T":235.9,"q":3.16},{"T":236.4,"q":3.05},{"T":237.1,"q":2.90},{"T":237.6,"q":2.97},{"T":238.4,"q":2.99},{"T":238.9,"q":2.94},{"T":239.6,"q":2.94},{"T":240.2,"q":2.94},{"T":240.9,"q":2.95},{"T":241.5,"q":3.05},{"T":242.1,"q":2.99},{"T":242.7,"q":2.95},{"T":243.3,"q":3.00},{"T":244.1,"q":3.02},{"T":244.7,"q":3.05},{"T":245.3,"q":3.08},{"T":245.9,"q":3.05},{"T":246.6,"q":3.05},{"T":247.2,"q":3.11},{"T":247.8,"q":3.08},{"T":248.4,"q":3.07},{"T":249.1,"q":3.12},{"T":249.7,"q":3.11},{"T":250.5,"q":3.08},{"T":251.2,"q":3.15},{"T":251.8,"q":3.22},{"T":252.3,"q":3.28},{"T":253.1,"q":3.26},{"T":253.8,"q":3.19},{"T":254.6,"q":3.22},{"T":255.2,"q":3.29},{"T":255.9,"q":3.29},{"T":256.6,"q":3.29},{"T":257.2,"q":3.26},{"T":257.9,"q":3.26},{"T":258.6,"q":3.31},{"T":259.2,"q":3.35},{"T":259.9,"q":3.37},{"T":260.6,"q":3.32},{"T":261.2,"q":3.26},{"T":262.0,"q":3.29},{"T":262.7,"q":3.31},{"T":263.4,"q":3.29},{"T":264.0,"q":3.29},{"T":264.7,"q":3.34},{"T":265.3,"q":3.38},{"T":266.1,"q":3.39},{"T":266.8,"q":3.42},{"T":267.5,"q":3.47},{"T":268.2,"q":3.50},{"T":269.0,"q":3.51},{"T":269.8,"q":3.49},{"T":270.4,"q":3.45},{"T":271.2,"q":3.42},{"T":271.9,"q":3.40},{"T":272.6,"q":3.39},{"T":273.2,"q":3.43},{"T":273.9,"q":3.42},{"T":274.6,"q":3.38},{"T":275.3,"q":3.42},{"T":276.0,"q":3.49},{"T":276.7,"q":3.54},{"T":277.4,"q":3.58},{"T":278.1,"q":3.58},{"T":278.9,"q":3.57},{"T":279.7,"q":3.58},{"T":280.5,"q":3.59},{"T":281.2,"q":3.62},{"T":281.8,"q":3.58},{"T":282.7,"q":3.50},{"T":283.3,"q":3.53},{"T":284.1,"q":3.54},{"T":284.7,"q":3.60},{"T":285.5,"q":3.68},{"T":286.1,"q":3.72},{"T":286.9,"q":3.74},{"T":287.7,"q":3.76},{"T":288.4,"q":3.74},{"T":289.3,"q":3.80},{"T":289.9,"q":3.83},{"T":290.7,"q":3.79},{"T":291.5,"q":3.77},{"T":292.3,"q":3.83},{"T":293.0,"q":3.86},{"T":293.8,"q":3.80},{"T":294.6,"q":3.77},{"T":295.4,"q":3.80},{"T":296.2,"q":3.83},{"T":297.1,"q":3.77},{"T":297.8,"q":3.75},{"T":298.6,"q":3.81},{"T":299.5,"q":3.86},{"T":300.2,"q":3.92},{"T":301.0,"q":3.96},{"T":301.7,"q":3.98},{"T":302.5,"q":4.01},{"T":303.4,"q":4.03},{"T":304.1,"q":4.07},{"T":305.1,"q":4.17},{"T":305.8,"q":4.24},{"T":306.7,"q":4.31},{"T":307.5,"q":4.41},{"T":308.5,"q":4.55},{"T":309.4,"q":4.67},{"T":310.3,"q":4.71},{"T":311.2,"q":4.75},{"T":312.1,"q":4.75},{"T":313.2,"q":4.74},{"T":314.2,"q":4.68},{"T":315.1,"q":4.53},{"T":315.9,"q":4.67},{"T":316.8,"q":4.92},{"T":317.6,"q":4.97},{"T":318.3,"q":4.99},{"T":318.5,"q":4.93},{"T":318.5,"q":4.89},{"T":318.4,"q":4.86},{"T":318.5,"q":4.85},{"T":318.6,"q":4.87},{"T":318.5,"q":4.84},{"T":318.4,"q":4.88},{"T":318.5,"q":4.98},{"T":318.5,"q":5.03},{"T":318.5,"q":5.09},{"T":318.5,"q":5.15},{"T":318.5,"q":5.21},{"T":319.3,"q":5.35}
],
"notes": [
{"note":"Nucleate Boiling\nRegime","T":81.8,"q":7.10},
{"note":"Film Boiling Regime","T":189.85,"q":3.285}
]
},
"layer": [
{
  "data": {"name": "red"},
  "mark": {"type": "line", "strokeWidth": 2},
  "encoding": {
    "x": {"field": "T", "type": "quantitative", "scale": {"domain": [50, 320], "nice": false, "zero": false},
      "axis": {"orient": "bottom", "values": [50, 100, 150, 200, 250, 300], "tickSize": -40, "labelFontSize": 56, "labelPadding": 56,
        "title": "Conductor Temperature (K)", "titleFontSize": 80, "titleBaseline": "alphabetic", "titleY": 169}},
    "y": {"field": "q", "type": "quantitative", "scale": {"domain": [0, 8], "nice": false},
      "axis": {"orient": "left", "values": [0, 2, 4, 6, 8], "tickSize": -51, "labelFontSize": 56, "labelPadding": 78,
        "title": "q' (10⁴ W m⁻²)", "titleFontSize": 70, "titleAngle": 270, "titleBaseline": "alphabetic", "titleAlign": "center", "titleX": -168, "titleY": 634.6}},
    "color": {"datum": "SVP 64K", "type": "nominal",
      "scale": {"domain": ["SVP 64K", "SVP 77K", "subcooled 67K"], "range": ["#ff0000", "#000000", "#0000ff"]},
      "legend": {"orient": "none", "legendX": 1508.7, "legendY": 72.3, "padding": 0,
        "title": "Bare Brass Tape:", "titleFont": "Liberation Sans", "titleFontSize": 60, "titleFontWeight": "normal", "titleColor": "black", "titlePadding": 19.6, "titleLimit": 2000,
        "labelFont": "Liberation Sans", "labelFontSize": 60, "labelColor": "black", "labelOffset": 116, "labelLimit": 2000,
        "symbolSize": 1936, "symbolStrokeWidth": 2, "symbolOffset": 96.4, "rowPadding": 25,
        "encode": {"symbols": {"update": {
          "fill": {"value": "transparent"},
          "shape": {"signal": "datum.value === 'SVP 64K' ? 'M-4.4,0L4.4,0M-4.627,-0.227L-4.173,-0.227L-4.173,0.227L-4.627,0.227ZM4.173,-0.227L4.627,-0.227L4.627,0.227L4.173,0.227Z' : datum.value === 'SVP 77K' ? 'M-4.4,0L4.4,0M-4.6,-0.17L-4.2,-0.17L-4.4,0.2ZM4.2,-0.17L4.6,-0.17L4.4,0.2Z' : 'M-4.4,0L4.4,0M-4.24,0L-4.287,0.113L-4.4,0.16L-4.513,0.113L-4.56,0L-4.513,-0.113L-4.4,-0.16L-4.287,-0.113ZM4.56,0L4.513,0.113L4.4,0.16L4.287,0.113L4.24,0L4.287,-0.113L4.4,-0.16L4.513,-0.113Z'"}
        }}}
      }},
    "order": {"value": null}
  }
},
{
  "data": {"name": "red"},
  "mark": {"type": "point", "shape": "square", "filled": false, "size": 100, "strokeWidth": 1.6, "opacity": 1},
  "encoding": {
    "x": {"field": "T", "type": "quantitative", "axis": {"orient": "bottom", "values": [75, 125, 175, 225, 275], "tickSize": -10, "labels": false, "title": null}},
    "y": {"field": "q", "type": "quantitative", "axis": {"orient": "left", "values": [1, 3, 5, 7], "tickSize": -13, "labels": false, "title": null}},
    "color": {"datum": "SVP 64K", "type": "nominal"}
  }
},
{
  "data": {"name": "black"},
  "mark": {"type": "line", "strokeWidth": 2},
  "encoding": {
    "x": {"field": "T", "type": "quantitative", "axis": {"orient": "top", "values": [50, 100, 150, 200, 250, 300], "tickSize": -40, "labels": false, "title": null}},
    "y": {"field": "q", "type": "quantitative", "axis": {"orient": "right", "values": [0, 2, 4, 6, 8], "tickSize": -51, "labels": false, "title": null}},
    "color": {"datum": "SVP 77K", "type": "nominal"},
    "order": {"value": null}
  }
},
{
  "data": {"name": "black"},
  "mark": {"type": "point", "shape": "triangle-down", "filled": false, "size": 80, "strokeWidth": 1.6, "opacity": 1},
  "encoding": {
    "x": {"field": "T", "type": "quantitative", "axis": {"orient": "top", "values": [75, 125, 175, 225, 275], "tickSize": -10, "labels": false, "title": null}},
    "y": {"field": "q", "type": "quantitative", "axis": {"orient": "right", "values": [1, 3, 5, 7], "tickSize": -13, "labels": false, "title": null}},
    "color": {"datum": "SVP 77K", "type": "nominal"}
  }
},
{
  "data": {"name": "blue"},
  "mark": {"type": "line", "strokeWidth": 2},
  "encoding": {
    "x": {"field": "T", "type": "quantitative", "axis": null},
    "y": {"field": "q", "type": "quantitative", "axis": null},
    "color": {"datum": "subcooled 67K", "type": "nominal"},
    "order": {"value": null}
  }
},
{
  "data": {"name": "blue"},
  "mark": {"type": "point", "shape": "circle", "filled": false, "size": 49, "strokeWidth": 1.6, "opacity": 1},
  "encoding": {
    "x": {"field": "T", "type": "quantitative", "axis": null},
    "y": {"field": "q", "type": "quantitative", "axis": null},
    "color": {"datum": "subcooled 67K", "type": "nominal"}
  }
},
{
  "data": {"name": "notes"},
  "mark": {"type": "text", "align": "left", "baseline": "alphabetic", "font": "Liberation Sans", "fontSize": 60, "lineBreak": "\n", "lineHeight": 53, "color": "black"},
  "encoding": {
    "x": {"field": "T", "type": "quantitative", "axis": null},
    "y": {"field": "q", "type": "quantitative", "axis": null},
    "text": {"field": "note"}
  }
}
],
"resolve": {"axis": {"x": "independent", "y": "independent"}}
}
